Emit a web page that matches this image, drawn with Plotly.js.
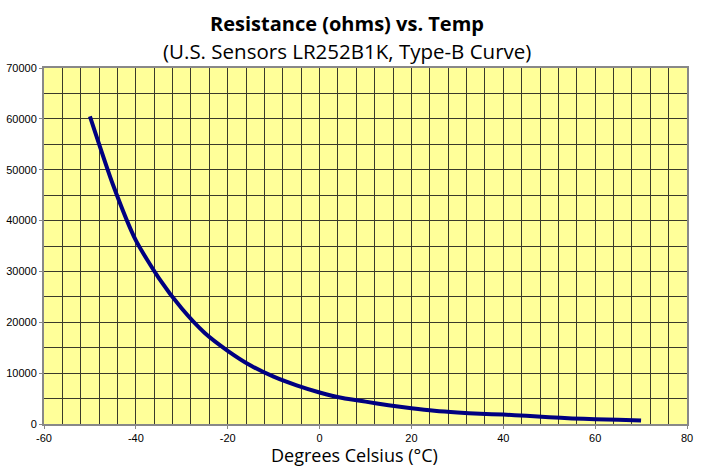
<!DOCTYPE html>
<html>
<head>
<meta charset="utf-8">
<script src="https://cdn.plot.ly/plotly-3.0.1.min.js"></script>
<style>html,body{margin:0;padding:0;background:#fff;}#chart{width:709px;height:466px;}</style>
</head>
<body>
<div id="chart"></div>
<script>
const temperatures = [-50,-45,-40,-35,-30,-25,-20,-15,-10,-5,0,5,10,15,20,25,30,35,40,45,50,55,60,65,70];
const resistance = [60500,47100,36100,28700,22700,17900,14400,11500,9300,7600,6200,5100,4400,3700,3100,2600,2250,2000,1850,1600,1350,1100,950,850,700];
const xTickVals = [-60,-40,-20,0,20,40,60,80];
const yTickVals = [0,10000,20000,30000,40000,50000,60000,70000];
const titleMain = "Resistance (ohms) vs. Temp";
const titleSub = "(U.S. Sensors LR252B1K, Type-B Curve)";
const xTitle = "Degrees Celsius (°C)";

const trace = {
  x: temperatures, y: resistance, type: 'scatter', mode: 'lines',
  line: {color: '#000080', width: 4, shape: 'spline', smoothing: 0.6},
  hoverinfo: 'skip'
};
const layout = {
  width: 709, height: 466,
  margin: {l: 44, r: 22, t: 68, b: 42},
  paper_bgcolor: '#ffffff', plot_bgcolor: '#FFFF99',
  showlegend: false,
  font: {family: 'Liberation Sans, Arial, sans-serif', size: 11, color: '#000'},
  xaxis: {
    range: [-60, 80], tickvals: xTickVals, ticktext: xTickVals.map(String),
    showgrid: true, gridcolor: '#3a3a2a', gridwidth: 1,
    minor: {dtick: 4, tick0: -60, showgrid: true, gridcolor: '#3a3a2a', gridwidth: 1, ticks: ''},
    showline: true, linecolor: '#888888', linewidth: 2, mirror: true,
    ticks: 'outside', ticklen: 3, tickcolor: '#888888',
    zeroline: false, tickfont: {size: 11}
  },
  yaxis: {
    range: [0, 70000], tickvals: yTickVals, ticktext: yTickVals.map(String),
    showgrid: true, gridcolor: '#3a3a2a', gridwidth: 1,
    minor: {dtick: 5000, tick0: 0, showgrid: true, gridcolor: '#3a3a2a', gridwidth: 1, ticks: ''},
    showline: true, linecolor: '#888888', linewidth: 2, mirror: true,
    ticks: 'outside', ticklen: 3, tickcolor: '#888888',
    zeroline: false, tickfont: {size: 11}
  },
  annotations: [
    {text: '<b>' + titleMain + '</b>', xref: 'paper', yref: 'paper', x: 0.471, y: 1, yshift: 45,
     showarrow: false, xanchor: 'center', yanchor: 'middle',
     font: {family: 'Open Sans, Noto Sans, sans-serif', size: 20, color: '#000'}},
    {text: titleSub, xref: 'paper', yref: 'paper', x: 0.471, y: 1, yshift: 17,
     showarrow: false, xanchor: 'center', yanchor: 'middle',
     font: {family: 'Open Sans, Noto Sans, sans-serif', size: 20.5, color: '#000'}},
    {text: xTitle, xref: 'paper', yref: 'paper', x: 0.483, y: 0, yshift: -31,
     showarrow: false, xanchor: 'center', yanchor: 'middle',
     font: {family: 'Open Sans, Noto Sans, sans-serif', size: 18, color: '#000'}}
  ]
};
Plotly.newPlot('chart', [trace], layout, {staticPlot: true, displayModeBar: false});
</script>
</body>
</html>
